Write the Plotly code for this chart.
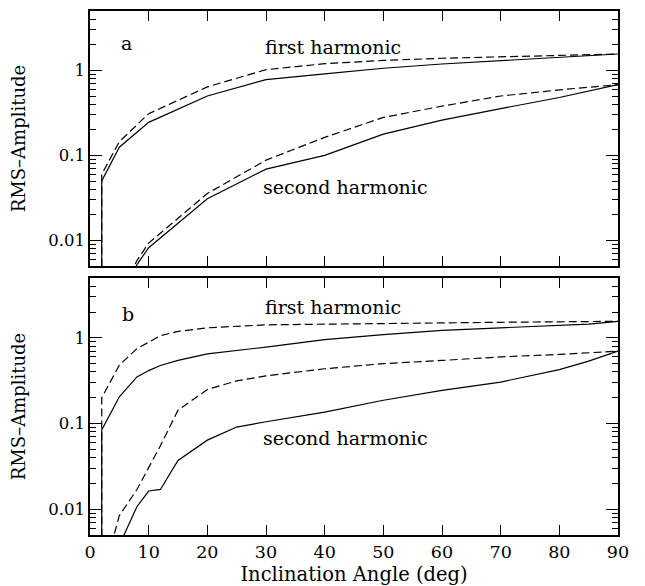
import numpy as np
import plotly.graph_objects as go

# ---------------- data ----------------
# Panel a
a_first_x = [2, 2, 5, 10, 20, 30, 40, 50, 60, 70, 80, 90]
a_first_solid = [1e-4, 0.05, 0.125, 0.245, 0.5, 0.78, 0.91, 1.06, 1.19, 1.31, 1.42, 1.56]
a_first_dashed = [1e-4, 0.06, 0.145, 0.31, 0.64, 1.02, 1.2, 1.31, 1.39, 1.45, 1.5, 1.56]

a_second_x = [5, 8, 10, 20, 30, 40, 50, 60, 70, 80, 90]
a_second_solid = [0.002, 0.0052, 0.0082, 0.031, 0.069, 0.1, 0.178, 0.26, 0.355, 0.48, 0.68]
a_second_dashed = [0.0022, 0.0058, 0.0093, 0.0357, 0.088, 0.163, 0.28, 0.38, 0.5, 0.59, 0.68]

# Panel b
b_first_x = [2, 2, 5, 8, 10, 12, 15, 20, 30, 40, 50, 60, 70, 80, 85, 90]
b_first_solid = [1e-4, 0.084, 0.205, 0.35, 0.415, 0.476, 0.545, 0.65, 0.78, 0.955, 1.09, 1.22, 1.31, 1.39, 1.45, 1.56]
b_first_dashed = [1e-4, 0.2, 0.48, 0.75, 0.89, 1.06, 1.19, 1.31, 1.42, 1.45, 1.48, 1.5, 1.52, 1.54, 1.55, 1.56]

b_second_x = [2, 5, 8, 10, 12, 15, 20, 25, 30, 40, 50, 60, 70, 80, 85, 90]
b_second_solid = [0.0008, 0.0038, 0.0107, 0.0163, 0.017, 0.037, 0.064, 0.091, 0.105, 0.136, 0.187, 0.244, 0.305, 0.425, 0.535, 0.7]
b_second_dashed = [0.0015, 0.0084, 0.017, 0.031, 0.055, 0.143, 0.25, 0.315, 0.36, 0.436, 0.5, 0.545, 0.6, 0.64, 0.67, 0.7]

x_ticks = [0, 10, 20, 30, 40, 50, 60, 70, 80, 90]
y_ticks = [0.01, 0.1, 1]
y_tick_text = ["0.01", "0.1", "1"]

FONT = "DejaVu Serif"
DASH = "8px,4px"

fig = go.Figure()

def add(x, y, dashed, xa, ya):
    fig.add_trace(go.Scatter(
        x=x, y=y, mode="lines", xaxis=xa, yaxis=ya,
        line=dict(color="black", width=1.2, dash=DASH if dashed else "solid"),
        showlegend=False, hoverinfo="skip"))

add(a_first_x, a_first_dashed, True, "x", "y")
add(a_first_x, a_first_solid, False, "x", "y")
add(a_second_x, a_second_dashed, True, "x", "y")
add(a_second_x, a_second_solid, False, "x", "y")
add(b_first_x, b_first_dashed, True, "x2", "y2")
add(b_first_x, b_first_solid, False, "x2", "y2")
add(b_second_x, b_second_dashed, True, "x2", "y2")
add(b_second_x, b_second_solid, False, "x2", "y2")

ylog_range = [np.log10(0.005), np.log10(5)]

xcommon = dict(range=[0, 90], tickvals=x_ticks, ticks="inside", ticklen=10,
               tickwidth=1, tickcolor="black", showline=True, linecolor="black",
               linewidth=1.5, mirror="ticks", showgrid=False, zeroline=False,
               tickfont=dict(family=FONT, size=17.5, color="black"))
ycommon = dict(type="log", range=ylog_range, tickvals=y_ticks, ticktext=y_tick_text,
               ticks="inside", ticklen=12, tickwidth=1, tickcolor="black",
               showline=True, linecolor="black", linewidth=1.5, mirror="ticks",
               showgrid=False, zeroline=False,
               minor=dict(ticks="inside", ticklen=6, tickwidth=1, tickcolor="black",
                          dtick="D1", showgrid=False),
               tickfont=dict(family=FONT, size=16.5, color="black"),
               title=dict(text="RMS\u2013Amplitude", font=dict(family=FONT, size=18, color="black"),
                          standoff=22))

fig.update_layout(
    width=637, height=578,
    margin=dict(l=82, r=27, t=1, b=51),
    paper_bgcolor="white", plot_bgcolor="white",
    xaxis=dict(**xcommon, anchor="y", showticklabels=False),
    yaxis=dict(**ycommon, anchor="x", domain=[0.5133, 1.0]),
    xaxis2=dict(**xcommon, anchor="y2", showticklabels=True,
                title=dict(text="Inclination Angle (deg)",
                           font=dict(family=FONT, size=19.5, color="black"), standoff=7)),
    yaxis2=dict(**ycommon, anchor="x2", domain=[0.0, 0.4905]),
)

ann_font = dict(family=FONT, size=19, color="black")
annotations = [
    dict(text="a", x=6.3, y=np.log10(2.08), xref="x", yref="y"),
    dict(text="first harmonic", x=41.5, y=np.log10(1.9), xref="x", yref="y"),
    dict(text="second harmonic", x=43.5, y=np.log10(0.0428), xref="x", yref="y"),
    dict(text="b", x=6.5, y=np.log10(1.9), xref="x2", yref="y2"),
    dict(text="first harmonic", x=41.5, y=np.log10(2.27), xref="x2", yref="y2"),
    dict(text="second harmonic", x=43.5, y=np.log10(0.067), xref="x2", yref="y2"),
]
for a in annotations:
    a.update(showarrow=False, font=ann_font, xanchor="center", yanchor="middle")
fig.update_layout(annotations=annotations)

fig.write_html("out.html")
